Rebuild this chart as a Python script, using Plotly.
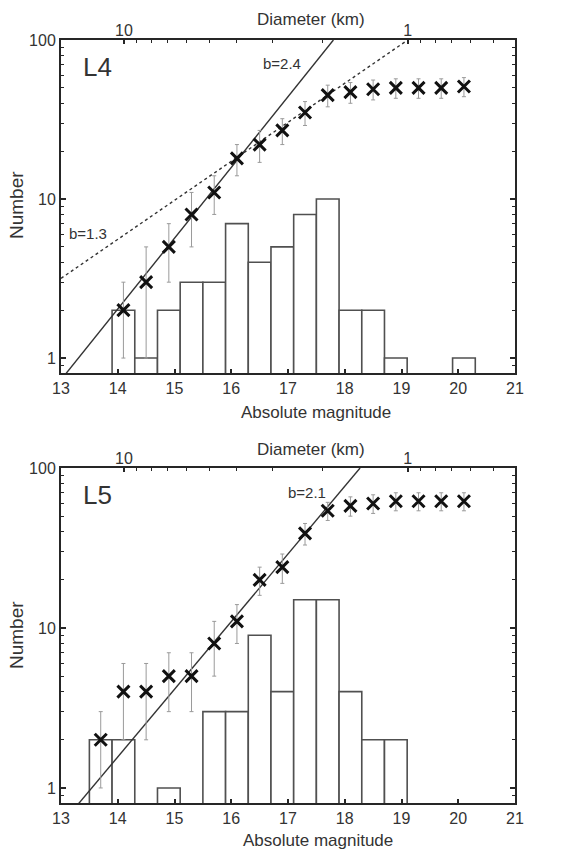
import numpy as np
import plotly.graph_objects as go

# ---------------- data ----------------
L4_H = [14.1, 14.5, 14.9, 15.3, 15.7, 16.1, 16.5, 16.9, 17.3, 17.7, 18.1, 18.5, 18.9, 19.3, 19.7, 20.1]
L4_HIST = [2, 1, 2, 3, 3, 7, 4, 5, 8, 10, 2, 2, 1, None, None, 1]
L4_CUM = [2, 3, 5, 8, 11, 18, 22, 27, 35, 45, 47, 49, 50, 50, 50, 51]
L4_ERR = [1, 2, 2, 3, 3, 4, 5, 5, 6, 7, 7, 7, 7, 7, 7, 7]

L5_H = [13.7, 14.1, 14.5, 14.9, 15.3, 15.7, 16.1, 16.5, 16.9, 17.3, 17.7, 18.1, 18.5, 18.9, 19.3, 19.7, 20.1]
L5_HIST = [2, 2, None, 1, None, 3, 3, 9, 4, 15, 15, 4, 2, 2, None, None, None]
L5_CUM = [2, 4, 4, 5, 5, 8, 11, 20, 24, 39, 54, 58, 60, 62, 62, 62, 62]
L5_ERR = [1, 2, 2, 2, 2, 3, 3, 4, 5, 6, 7, 8, 8, 8, 8, 8, 8]

# power-law fits (end points)
FIT_L4_STEEP_H = [13.0, 17.8]
FIT_L4_STEEP_N = [0.73, 100]
FIT_L4_SHALLOW_H = [13.0, 19.11]
FIT_L4_SHALLOW_N = [3.17, 100]
FIT_L5_H = [13.0, 18.27]
FIT_L5_N = [0.59, 100]

BIN_WIDTH = 0.4
MAG_TICKS = [13, 14, 15, 16, 17, 18, 19, 20, 21]
Y_MAJOR = [1, 10, 100]
Y_MINOR = [0.9, 2, 3, 4, 5, 6, 7, 8, 9, 20, 30, 40, 50, 60, 70, 80, 90]
D_MAJOR = [10, 1]
D_MINOR = [9, 8, 7, 6, 5, 4, 3, 2, 0.9, 0.8, 0.7, 0.6, 0.5]
H_AT_1KM = 19.11  # absolute magnitude corresponding to D = 1 km


def d_to_h(d):
    return H_AT_1KM - 5 * np.log10(d)


# ---------------- layout geometry ----------------
W, Hpx = 571, 852
REF_L, REF_R, REF_T, REF_B = 61, 515, 40, 803   # plot area in pixels
ML, MT = REF_L, REF_T
MR, MB = W - REF_R, Hpx - REF_B
PW = REF_R - REF_L
PH = REF_B - REF_T


def px(xp):
    return (xp - REF_L) / PW


def py(yp):
    return (REF_B - yp) / PH


TOP_DOM = [py(373), py(40)]
BOT_DOM = [py(803), py(468)]

FONT = "Liberation Sans, Arial, Helvetica, sans-serif"
TXT = "#333333"
FRAME = "#262626"

fig = go.Figure()


def add_panel(xa, ya, H, hist, cum, err, fits):
    fig.add_trace(go.Bar(
        x=H, y=hist, width=BIN_WIDTH, xaxis=xa, yaxis=ya,
        marker=dict(color="white", line=dict(color="#505050", width=1.6)),
        showlegend=False,
    ))
    for fx, fy, dash in fits:
        fig.add_trace(go.Scatter(
            x=fx, y=fy, mode="lines", xaxis=xa, yaxis=ya,
            line=dict(color="#333333", width=1.4, dash=dash),
            showlegend=False,
        ))
    fig.add_trace(go.Scatter(
        x=H, y=cum, mode="markers", xaxis=xa, yaxis=ya,
        error_y=dict(type="data", array=err, color="#9a9a9a", thickness=1, width=2),
        marker=dict(symbol="x-thin", size=12, line=dict(color="#111111", width=3)),
        showlegend=False,
    ))


add_panel("x", "y", L4_H, L4_HIST, L4_CUM, L4_ERR,
          [(FIT_L4_STEEP_H, FIT_L4_STEEP_N, "solid"),
           (FIT_L4_SHALLOW_H, FIT_L4_SHALLOW_N, "dot")])
add_panel("x3", "y2", L5_H, L5_HIST, L5_CUM, L5_ERR,
          [(FIT_L5_H, FIT_L5_N, "solid")])

tickfont = dict(family=FONT, size=16, color=TXT)

common_x = dict(
    range=[13, 21], tickvals=MAG_TICKS, ticktext=[str(t) for t in MAG_TICKS],
    ticks="inside", ticklen=4, tickwidth=1.5, tickcolor=FRAME,
    showline=True, linecolor=FRAME, linewidth=2, mirror=True,
    showgrid=False, zeroline=False, tickfont=tickfont, automargin=False,
)
common_y = dict(
    type="log", range=[-0.094, 2], tickvals=Y_MAJOR, ticktext=["1", "10", "100"],
    ticks="inside", ticklen=5, tickwidth=1.5, tickcolor=FRAME,
    minor=dict(tickvals=Y_MINOR, ticks="inside", ticklen=3, tickcolor=FRAME, tickwidth=1.2),
    showline=True, linecolor=FRAME, linewidth=2, mirror="ticks",
    showgrid=False, zeroline=False, tickfont=tickfont, automargin=False,
)
common_d = dict(
    range=[13, 21], side="top",
    tickvals=[float(d_to_h(d)) for d in D_MAJOR], ticktext=["10", "1"],
    ticks="inside", ticklen=4, tickwidth=1.5, tickcolor=FRAME,
    minor=dict(tickvals=[float(d_to_h(d)) for d in D_MINOR], ticks="inside",
               ticklen=3, tickcolor=FRAME, tickwidth=1.2),
    showline=False, showgrid=False, zeroline=False, tickfont=tickfont, automargin=False,
)

fig.update_layout(
    width=W, height=Hpx,
    margin=dict(l=ML, r=MR, t=MT, b=MB, autoexpand=False),
    paper_bgcolor="white", plot_bgcolor="white",
    barmode="overlay",
    xaxis=dict(domain=[0, 1], anchor="y", **common_x),
    xaxis2=dict(domain=[0, 1], anchor="y", overlaying="x", **common_d),
    xaxis3=dict(domain=[0, 1], anchor="y2", **common_x),
    xaxis4=dict(domain=[0, 1], anchor="y2", overlaying="x3", **common_d),
    yaxis=dict(domain=TOP_DOM, anchor="x", **common_y),
    yaxis2=dict(domain=BOT_DOM, anchor="x3", **common_y),
)

# empty traces so the diameter axes are drawn
fig.add_trace(go.Scatter(x=[None], y=[None], xaxis="x2", yaxis="y", showlegend=False))
fig.add_trace(go.Scatter(x=[None], y=[None], xaxis="x4", yaxis="y2", showlegend=False))

ann = []


def text(x, y, s, size, xref="paper", yref="paper", angle=0):
    ann.append(dict(x=x, y=y, xref=xref, yref=yref, text=s, showarrow=False,
                    textangle=angle, xanchor="center", yanchor="middle",
                    font=dict(family=FONT, size=size, color=TXT)))


# panel labels and fit labels (data coords; log axes use log10)
text(13.65, 1.83, "L4", 26, "x", "y")
text(16.90, 1.853, "b=2.4", 15, "x", "y")
text(13.48, 0.786, "b=1.3", 15, "x", "y")
text(13.65, 1.83, "L5", 26, "x3", "y2")
text(17.33, 1.85, "b=2.1", 15, "x3", "y2")

# axis titles
text(px(311), py(20), "Diameter (km)", 17)
text(px(316), py(412), "Absolute magnitude", 17)
text(px(16), py(205), "Number", 19, angle=-90)
text(px(311), py(449), "Diameter (km)", 17)
text(px(318), py(840), "Absolute magnitude", 17)
text(px(16), py(635), "Number", 19, angle=-90)

fig.update_layout(annotations=ann)

# remove the default page margin so the figure fills the window exactly
fig.write_html(
    "out.html",
    config={"displayModeBar": False},
    post_script="document.body.style.margin='0';document.body.style.overflow='hidden';",
)
